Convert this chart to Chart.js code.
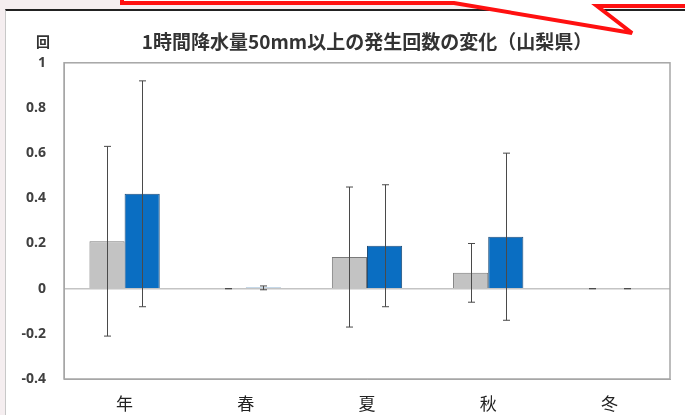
<!DOCTYPE html>
<html lang="ja">
<head>
<meta charset="utf-8">
<title>1時間降水量50mm以上の発生回数の変化（山梨県）</title>
<script src="https://cdn.jsdelivr.net/npm/chart.js@4"></script>
<style>
    html, body { margin: 0; padding: 0; }
    body { width: 685px; height: 415px; background: #f5eef0; position: relative; overflow: hidden; }
    .frame { position: absolute; left: 5px; top: 9px; width: 700px; height: 420px;
             background: #fff; border-top: 2px solid #222; border-left: 1px solid #c8c8c8; }
    #chartBox { position: absolute; left: 0; top: 0; width: 685px; height: 415px; }
    .callout { position: absolute; left: 0; top: 0; }
</style>
</head>
<body>
<div class="frame"></div>
<div id="chartBox"><canvas id="rainChart" width="685" height="415"></canvas></div>
<svg class="callout" width="685" height="40">
    <polygon points="122,-10 122,3 454,3 632,33 597,6 700,6 700,-10"
             fill="#fff" stroke="#ff1010" stroke-width="4" stroke-linejoin="miter"/>
</svg>
<script>
// Data
const seasons = ['年', '春', '夏', '秋', '冬'];
const yTickValues = [-0.4, -0.2, 0, 0.2, 0.4, 0.6, 0.8, 1];

// Present climate (gray)
const presentValues = [0.21, 0, 0.14, 0.07, 0];
const presentLower = [-0.21, 0, -0.17, -0.06, 0];
const presentUpper = [0.63, 0, 0.45, 0.20, 0];

// Future climate (blue)
const futureValues = [0.42, 0.005, 0.19, 0.23, 0];
const futureLower = [-0.08, -0.005, -0.08, -0.14, 0];
const futureUpper = [0.92, 0.012, 0.46, 0.60, 0];

const errorRanges = [
    { lower: presentLower, upper: presentUpper },
    { lower: futureLower, upper: futureUpper }
];

// Error bars drawn from the arrays above through the y scale
const errorBarPlugin = {
    id: 'errorBars',
    afterDatasetsDraw(chart) {
        const ctx = chart.ctx;
        const yScale = chart.scales.y;
        ctx.save();
        ctx.strokeStyle = '#4a4a4a';
        ctx.lineWidth = 1;
        errorRanges.forEach((range, i) => {
            const meta = chart.getDatasetMeta(i);
            meta.data.forEach((bar, j) => {
                const x = Math.round(bar.x) + 0.5;
                const yLo = yScale.getPixelForValue(range.lower[j]);
                const yHi = yScale.getPixelForValue(range.upper[j]);
                ctx.beginPath();
                ctx.moveTo(x, yLo);
                ctx.lineTo(x, yHi);
                ctx.moveTo(x - 3.5, yLo);
                ctx.lineTo(x + 3.5, yLo);
                ctx.moveTo(x - 3.5, yHi);
                ctx.lineTo(x + 3.5, yHi);
                ctx.stroke();
            });
        });
        ctx.restore();
    }
};

// Box around the plot area plus the unit label
const frameBoxPlugin = {
    id: 'frameBox',
    afterDraw(chart) {
        const { ctx, chartArea } = chart;
        ctx.save();
        ctx.strokeStyle = '#a6a6a6';
        ctx.lineWidth = 1.5;
        ctx.strokeRect(chartArea.left, chartArea.top, chartArea.right - chartArea.left, chartArea.bottom - chartArea.top);
        ctx.fillStyle = '#333';
        ctx.font = 'bold 14px "Noto Sans CJK JP"';
        ctx.textAlign = 'center';
        ctx.textBaseline = 'middle';
        ctx.fillText('回', 43, 42);
        ctx.restore();
    }
};

document.addEventListener('DOMContentLoaded', function() {
    const ctx = document.getElementById('rainChart').getContext('2d');
    new Chart(ctx, {
        type: 'bar',
        data: {
            labels: seasons,
            datasets: [{
                label: '現在気候',
                data: presentValues,
                backgroundColor: '#c3c3c3',
                borderColor: '#7a7a7a',
                borderWidth: 1,
                barPercentage: 1,
                categoryPercentage: 0.58
            }, {
                label: '将来気候',
                data: futureValues,
                backgroundColor: '#0a6ec2',
                borderColor: '#1f4e79',
                borderWidth: 1,
                barPercentage: 1,
                categoryPercentage: 0.58
            }]
        },
        options: {
            responsive: false,
            animation: false,
            layout: { padding: { left: 0, right: 15, bottom: 0 } },
            plugins: {
                legend: { display: false },
                tooltip: { enabled: false },
                title: {
                    display: true,
                    fullSize: false,
                    text: '1時間降水量50mm以上の発生回数の変化（山梨県）',
                    color: '#333',
                    font: { family: '"Noto Sans CJK JP"', size: 19, weight: 'bold' },
                    padding: { top: 30, bottom: 10 }
                }
            },
            scales: {
                x: {
                    grid: { display: false },
                    border: { display: true, color: '#a6a6a6' },
                    ticks: {
                        color: '#222',
                        padding: 6,
                        font: { family: '"Noto Sans CJK JP"', size: 17 }
                    },
                    afterFit(scale) { scale.height = 36; }
                },
                y: {
                    min: -0.4,
                    max: 1,
                    afterBuildTicks(scale) {
                        scale.ticks = yTickValues.map(v => ({ value: v }));
                    },
                    grid: {
                        drawTicks: false,
                        color: c => (c.tick && Math.abs(c.tick.value) < 1e-9) ? '#c4c4c4' : 'rgba(0,0,0,0)',
                        lineWidth: 1.5
                    },
                    border: { display: true, color: '#a6a6a6' },
                    ticks: {
                        color: '#404040',
                        padding: 18,
                        font: { family: '"Open Sans"', size: 14, weight: 'bold' },
                        callback: v => String(parseFloat(v.toFixed(1)))
                    },
                    afterFit(scale) { scale.width = 64; }
                }
            }
        },
        plugins: [errorBarPlugin, frameBoxPlugin]
    });
});
</script>
</body>
</html>
